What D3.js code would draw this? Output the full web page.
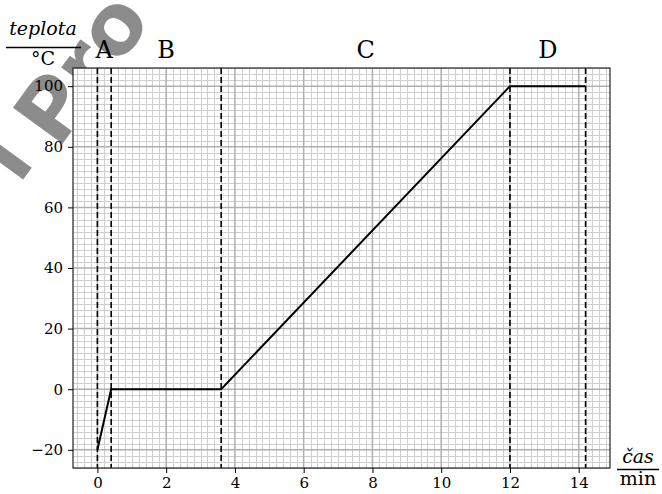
<!DOCTYPE html>
<html><head><meta charset="utf-8">
<script src="https://cdn.jsdelivr.net/npm/d3@7"></script>
<style>body{margin:0;background:#fff}svg{display:block}</style>
</head><body>
<script>
// data
const timeMin = [0, 0.4, 3.6, 12, 14.2];
const tempC = [-20, 0, 0, 100, 100];
const phaseBounds = [0, 0.4, 3.6, 12, 14.2];
const phaseLabels = ["A", "B", "C", "D"];
const xTicks = [0, 2, 4, 6, 8, 10, 12, 14];
const yTicks = [-20, 0, 20, 40, 60, 80, 100];

const W = 662, H = 494;
const m = {l: 73, r: 52, t: 68, b: 26};
const svg = d3.select("body").append("svg").attr("width", W).attr("height", H);

// watermark (behind)
const wm = svg.append("g").attr("font-family", "DejaVu Sans").attr("font-weight", "bold")
  .attr("font-size", 84).attr("fill", "#8c8c8c");
wm.append("text").attr("transform", "translate(58,150) rotate(-54)").text("Pro");
wm.append("text").attr("transform", "translate(36,162) rotate(-54)").attr("text-anchor", "end").text("i");

const x = d3.scaleLinear().domain([-0.71, 14.91]).range([m.l, W - m.r]);
const y = d3.scaleLinear().domain([-26, 106]).range([H - m.b, m.t]);

const g = svg.append("g");
g.append("rect").attr("x", m.l).attr("y", m.t).attr("width", W - m.r - m.l).attr("height", H - m.b - m.t).attr("fill", "#fff");

const xMinor = d3.range(-6, 75).map(i => i * 0.2).filter(v => v >= -0.71 && v <= 14.91 && Math.abs(v / 2 - Math.round(v / 2)) > 1e-6);
const yMinor = d3.range(-13, 54).map(i => i * 2).filter(v => v >= -26 && v <= 106 && v % 20 !== 0);
const xMajor = d3.range(0, 15, 2);
const yMajor = d3.range(-20, 101, 20);

const grid = g.append("g");
grid.selectAll(".vm").data(xMinor).join("line").attr("x1", d => Math.round(x(d)) + 0.5).attr("x2", d => Math.round(x(d)) + 0.5)
  .attr("y1", m.t).attr("y2", H - m.b).attr("stroke", "#cfcfcf").attr("stroke-width", 1);
grid.selectAll(".hm").data(yMinor).join("line").attr("y1", d => Math.round(y(d)) + 0.5).attr("y2", d => Math.round(y(d)) + 0.5)
  .attr("x1", m.l).attr("x2", W - m.r).attr("stroke", "#cfcfcf").attr("stroke-width", 1);
grid.selectAll(".vM").data(xMajor).join("line").attr("x1", d => x(d)).attr("x2", d => x(d))
  .attr("y1", m.t).attr("y2", H - m.b).attr("stroke", "#b0b0b0").attr("stroke-width", 1.5);
grid.selectAll(".hM").data(yMajor).join("line").attr("y1", d => y(d)).attr("y2", d => y(d))
  .attr("x1", m.l).attr("x2", W - m.r).attr("stroke", "#b0b0b0").attr("stroke-width", 1.5);

// dashed phase bounds
g.selectAll(".dash").data(phaseBounds).join("line").attr("x1", d => x(d)).attr("x2", d => x(d))
  .attr("y1", m.t).attr("y2", H - m.b).attr("stroke", "#000").attr("stroke-width", 1.6).attr("stroke-dasharray", "6,3");

// data line
const pts = timeMin.map((t, i) => [t, tempC[i]]);
g.append("path").datum(pts).attr("d", d3.line().x(d => x(d[0])).y(d => y(d[1])))
  .attr("fill", "none").attr("stroke", "#000").attr("stroke-width", 2);

// spines
g.append("rect").attr("x", m.l).attr("y", m.t).attr("width", W - m.r - m.l).attr("height", H - m.b - m.t)
  .attr("fill", "none").attr("stroke", "#222").attr("stroke-width", 1.2);

// axes
const fmt = d => (d < 0 ? "\u2212" + Math.abs(d) : "" + d);
const xAx = g.append("g").attr("transform", `translate(0,${H - m.b})`);
xAx.call(d3.axisBottom(x).tickValues(xMinor).tickSize(3).tickFormat(""));
xAx.call(d3.axisBottom(x).tickValues(xTicks).tickSize(5).tickPadding(4).tickFormat(fmt));
const yAx = g.append("g").attr("transform", `translate(${m.l},0)`);
yAx.call(d3.axisLeft(y).tickValues(yMinor).tickSize(3).tickFormat(""));
yAx.call(d3.axisLeft(y).tickValues(yTicks).tickSize(5).tickPadding(5).tickFormat(fmt));
g.selectAll(".domain").remove();
g.selectAll(".tick line").attr("stroke", "#000").attr("stroke-width", 1);
g.selectAll(".tick text").attr("font-family", "DejaVu Serif").attr("font-size", 15).attr("fill", "#000");

// phase labels
const centers = phaseLabels.map((p, i) => (phaseBounds[i] + phaseBounds[i + 1]) / 2);
g.selectAll(".pl").data(phaseLabels).join("text").attr("x", (d, i) => x(centers[i])).attr("y", 58)
  .attr("text-anchor", "middle").attr("font-family", "DejaVu Serif").attr("font-size", 24).text(d => d);

// axis labels as fractions
const lab = svg.append("g").attr("font-family", "DejaVu Serif").attr("fill", "#000");
lab.append("text").attr("x", 43).attr("y", 35).attr("text-anchor", "middle").attr("font-style", "italic").attr("font-size", 19).text("teplota");
lab.append("line").attr("x1", 6).attr("x2", 81).attr("y1", 47.5).attr("y2", 47.5).attr("stroke", "#000").attr("stroke-width", 1.3);
lab.append("text").attr("x", 43).attr("y", 65).attr("text-anchor", "middle").attr("font-size", 19).text("°C");
lab.append("text").attr("x", 638).attr("y", 463).attr("text-anchor", "middle").attr("font-style", "italic").attr("font-size", 19).text("čas");
lab.append("line").attr("x1", 617).attr("x2", 659).attr("y1", 469.5).attr("y2", 469.5).attr("stroke", "#000").attr("stroke-width", 1.3);
lab.append("text").attr("x", 638).attr("y", 485).attr("text-anchor", "middle").attr("font-size", 19).text("min");
</script>
</body></html>
